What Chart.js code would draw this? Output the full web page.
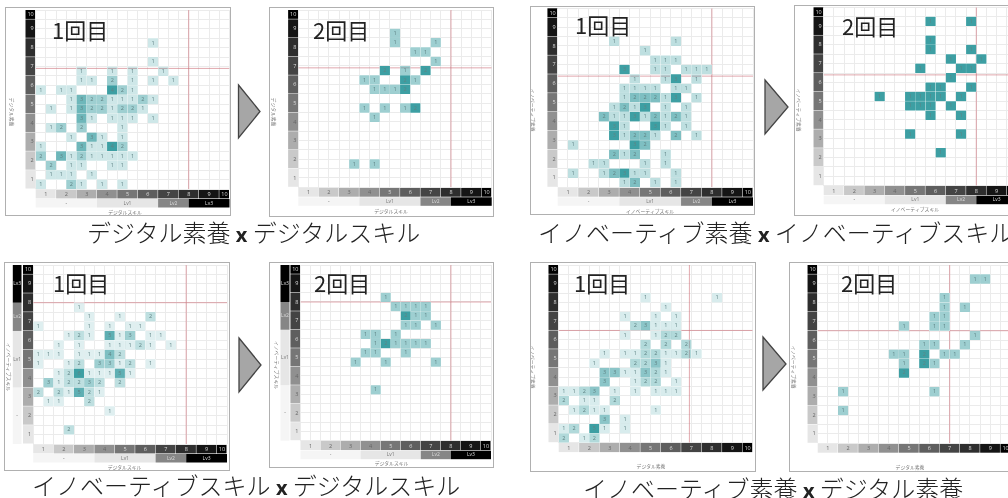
<!DOCTYPE html>
<html lang="ja">
<head>
<meta charset="utf-8">
<title>1回目 / 2回目</title>
<script src="https://cdn.jsdelivr.net/npm/chart.js@4"></script>
<style>
  html, body { margin: 0; background: #fff; }
  body { position: relative; width: 1008px; height: 498px; overflow: hidden; font-family: "Noto Sans CJK JP", sans-serif; color: #222; }
  canvas { position: absolute; outline: 1px solid #b0b0b0; filter: blur(0.5px); }
  .round, .caption { position: absolute; white-space: nowrap; transform: translateY(-50%); font-size: 22px; line-height: 1; }
  .caption { font-size: 24px; font-weight: 300; }
  .caption b { font-family: "Open Sans", sans-serif; font-size: 20px; font-weight: 700; }
  svg { position: absolute; left: 0; top: 0; }
</style>
</head>
<body>
<svg width="1008" height="498" id="arrows"></svg>
<script>
// Tick labels and bands
const scoreLabels = [1, 2, 3, 4, 5, 6, 7, 8, 9, 10];
const bandColors = ["#e6e6e6", "#c9c9c9", "#adadad", "#909090", "#767676", "#5e5e5e", "#444444", "#2e2e2e", "#151515", "#000000"];
const levelNames = ["-", "Lv1", "Lv2", "Lv3"];
const levelStarts = [1, 4, 7, 8.5];
const levelColors = ["#f5f5f5", "#e6e6e6", "#868686", "#000000"];

// Cells: [x score, y score, people]
const digital1 = [
  [6.5,8.5,1],[6.5,7.5,1],
  [3,7,1],[4.5,7,1],[5.5,7,1],[7,7,1],
  [3,6.5,1],[3.5,6.5,1],[4.5,6.5,2],[5.5,6.5,1],[6.5,6.5,1],[7.5,6.5,1],
  [1,6,1],[2,6,1],[2.5,6,1],[4.5,6,4],[5,6,2],[5.5,6,1],
  [2.5,5.5,1],[3,5.5,3],[3.5,5.5,2],[4,5.5,2],[4.5,5.5,1],[5,5.5,1],[5.5,5.5,1],[6,5.5,2],[6.5,5.5,1],
  [1.5,5,1],[2.5,5,1],[3,5,3],[3.5,5,2],[4,5,2],[4.5,5,1],[5,5,2],[5.5,5,2],[6,5,1],
  [3,4.5,3],[3.5,4.5,1],[4.5,4.5,1],[5,4.5,1],[5.5,4.5,1],[6.5,4.5,1],
  [1.5,4,1],[2,4,2],[3,4,2],[5,4,1],
  [2.5,3.5,1],[3.5,3.5,3],[4,3.5,1],[5,3.5,1],
  [1,3,1],[3,3,3],[3.5,3,1],[4,3,1],[4.5,3,4],[5,3,2],
  [1,2.5,2],[2,2.5,3],[2.5,2.5,1],[3,2.5,2],[3.5,2.5,1],[4,2.5,1],[4.5,2.5,1],[5,2.5,1],[5.5,2.5,1],
  [1.5,2,2],[2.5,2,1],[3,2,1],[4.5,2,1],[5,2,1],
  [1.5,1.5,1],[2,1.5,1],[2.5,1.5,1],[3.5,1.5,1],
  [1,1,1],[2.5,1,2],[3,1,1],[4,1,1],[5,1,1],
];
const digital2 = [
  [5.5,9,1],[5.5,8.5,1],[7.5,8.5,1],
  [6.5,8,1],[7,8,1],[7.5,7.5,1],
  [5,7,2],[6,7,1],[7,7,2],
  [4,6.5,1],[4.5,6.5,1],[6,6.5,2],[6.5,6.5,1],
  [4.5,6,1],[5,6,1],[5.5,6,1],[6,6,2],
  [4,5,1],[5,5,1],[6,5,1],[6.5,5,2],
  [4.5,4.5,1],[3.5,2,1],[4.5,2,1],
];
const innovative1 = [
  [3.5,8.5,1],[6.5,8.5,1],[5,8,1],
  [5.5,7.5,1],[6,7.5,1],[6.5,7.5,1],
  [4,7,3],[5.5,7,1],[6,7,1],[7,7,1],[7.5,7,1],[8,7,1],
  [4.5,6.5,1],[6,6.5,1],[6.5,6.5,3],[7.5,6.5,1],
  [4,6,1],[4.5,6,1],[5,6,1],[5.5,6,1],[6.5,6,1],[7,6,1],
  [4,5.5,1],[4.5,5.5,2],[5,5.5,2],[5.5,5.5,2],[6,5.5,1],[6.5,5.5,3],[7.5,5.5,1],
  [3.5,5,1],[4,5,2],[4.5,5,1],[5,5,3],[6,5,1],[7,5,1],
  [3,4.5,2],[3.5,4.5,1],[4,4.5,1],[4.5,4.5,3],[5,4.5,1],[5.5,4.5,2],[6,4.5,1],[6.5,4.5,2],[7,4.5,1],
  [3.5,4,3],[4,4,1],[5.5,4,3],[6,4,1],[7,4,1],
  [3.5,3.5,3],[4,3.5,1],[4.5,3.5,2],[5,3.5,2],[5.5,3.5,1],[6.5,3.5,2],[7.5,3.5,1],
  [1.5,3,1],[4.5,3,3],[5,3,2],
  [3.5,2.5,2],[4,2.5,1],[4.5,2.5,2],[6,2.5,1],
  [2.5,2,1],[3,2,1],[5,2,1],[6,2,1],
  [1.5,1.5,1],[3,1.5,1],[3.5,1.5,2],[4,1.5,3],[4.5,1.5,1],[5,1.5,1],[6.5,1.5,1],
  [4,1,1],[4.5,1,2],[5.5,1,1],[6.5,1,1],
];
const innovative2 = [
  [6,9.5,1],[8,9.5,1],[6,8.5,1],[6,8,1],[8,8,1],
  [7,7.5,1],[8.5,7.5,1],
  [5.5,7,1],[7.5,7,1],[8,7,1],[7,6.5,1],
  [6,6,1],[6.5,6,1],[8,6,1],
  [3.5,5.5,1],[5,5.5,1],[5.5,5.5,1],[6,5.5,1],[6.5,5.5,1],[7.5,5.5,1],
  [5,5,1],[5.5,5,1],[6,5,1],[7,5,1],
  [6,4.5,1],[7.5,4.5,1],[5,3.5,1],[7.5,3.5,1],[6.5,2.5,1],
];
const skill1 = [
  [3,8,1],[3.5,7.5,1],[5,7.5,1],[6.5,7.5,2],
  [1,7,1],[3.5,7,1],[4.5,7,1],[5.5,7,1],[6,7,1],
  [2.5,6.5,1],[3,6.5,2],[3.5,6.5,1],[4.5,6.5,5],[5,6.5,1],[5.5,6.5,3],[6.5,6.5,1],[7,6.5,1],
  [2,6,1],[3,6,1],[4.5,6,1],[5,6,1],[5.5,6,1],[6,6,2],[6.5,6,1],[7.5,6,1],
  [1,5.5,1],[1.5,5.5,1],[2,5.5,1],[3,5.5,1],[3.5,5.5,1],[4,5.5,1],[4.5,5.5,4],[5,5.5,2],
  [1,5,1],[2.5,5,1],[3,5,2],[4,5,3],[4.5,5,3],[5,5,1],[5.5,5,2],[6.5,5,1],
  [2,4.5,1],[2.5,4.5,2],[3,4.5,6],[3.5,4.5,1],[4,4.5,1],[4.5,4.5,1],[5,4.5,5],[5.5,4.5,1],
  [1.5,4,3],[2,4,1],[2.5,4,2],[3,4,2],[3.5,4,3],[4,4,2],[5,4,2],
  [1,3.5,2],[2,3.5,2],[2.5,3.5,1],[3,3.5,5],[3.5,3.5,2],[4,3.5,1],
  [1.5,3,1],[2,3,1],[3.5,3,2],
  [4.5,2.5,1],[2.5,1.5,2],
];
const skill2 = [
  [5,8.5,1],
  [5.5,8,1],[6,8,1],[6.5,8,1],[7,8,1],
  [6,7.5,2],[6.5,7.5,1],[7,7.5,1],
  [6,7,1],[6.5,7,1],[7.5,7,1],
  [4,6.5,1],[4.5,6.5,1],[5.5,6.5,1],
  [4.5,6,1],[5,6,2],[5.5,6,1],[6,6,1],[6.5,6,1],[7,6,1],
  [4,5.5,1],[4.5,5.5,1],[6,5.5,1],
  [3.5,5,1],[5,5,1],[7.5,5,1],
  [4.5,3.5,1],
];
const literacy1 = [
  [5,8.5,1],[8.5,8.5,1],[6,8,1],
  [4,7.5,1],[5.5,7.5,1],[6.5,7.5,1],
  [4.5,7,2],[5,7,3],[5.5,7,1],[6,7,1],[6.5,7,1],
  [4,6.5,1],[5.5,6.5,1],[6,6.5,2],[6.5,6.5,2],
  [5,6,2],[6,6,2],[7,6,2],
  [3,5.5,1],[4,5.5,1],[4.5,5.5,1],[5,5.5,2],[5.5,5.5,2],[6,5.5,1],[6.5,5.5,1],[7,5.5,2],[7.5,5.5,1],
  [2.5,5,1],[4.5,5,2],[5,5,2],[5.5,5,3],[6,5,1],
  [3,4.5,3],[3.5,4.5,3],[4,4.5,1],[4.5,4.5,1],[5,4.5,3],[5.5,4.5,2],[6,4.5,1],
  [3,4,3],[4.5,4,1],[5,4,2],[5.5,4,2],[6.5,4,1],
  [1,3.5,1],[1.5,3.5,1],[2,3.5,2],[2.5,3.5,3],[3.5,3.5,1],[4.5,3.5,1],[5.5,3.5,1],[6,3.5,1],[6.5,3.5,1],
  [1,3,2],[2,3,1],[2.5,3,1],[3.5,3,2],
  [1.5,2.5,1],[2,2.5,2],[2.5,2.5,1],[3,2.5,1],[5.5,2.5,1],
  [3,2,3],[4,2,1],
  [1,1.5,1],[1.5,1.5,2],[2.5,1.5,5],[3,1.5,1],[4,1.5,1],
  [1,1,2],[2,1,1],[2.5,1,2],
];
const literacy2 = [
  [8.5,9.5,1],[9,9.5,1],
  [7,8.5,1],[7,8,1],[8,8,1],
  [6.5,7.5,1],[7,7.5,1],
  [5,7,1],[6.5,7,1],[7,7,1],[8.5,6.5,1],
  [6,6,1],[6.5,6,1],[8,6,1],
  [4.5,5.5,1],[5,5.5,1],[6,5.5,2],[7,5.5,1],[7.5,5.5,1],
  [5,5,1],[6,5,2],[6.5,5,1],
  [5,4.5,2],[2,3.5,1],[6.5,3.5,1],[2,2.5,1],
];

// Geometry: frame [l,t,r,b], grid [l,t,r,b], titles at [x,y]
const panels = [
  { cells: digital1, round: "1回目", roundAt: [52, 29], frame: [6, 8, 230, 215], grid: [35.7, 10, 229.5, 189], xTitle: "デジタルスキル", xTitleAt: [125, 212], yTitle: "デジタル素養", yTitleAt: [12, 112], redX: 8.5, redY: 7.4, xLevels: true },
  { cells: digital2, round: "2回目", roundAt: [313, 29], frame: [270, 8, 493, 216], grid: [298.3, 10, 491.7, 187.3], xTitle: "デジタルスキル", xTitleAt: [391, 211], yTitle: "デジタル素養", yTitleAt: [274, 112], redX: 8.5, redY: 7.4, xLevels: true },
  { cells: innovative1, round: "1回目", roundAt: [575, 24], frame: [531, 7, 754, 214], grid: [557.7, 8.3, 753, 187.3], xTitle: "イノベーティブスキル", xTitleAt: [650, 211], yTitle: "イノベーティブ素養", yTitleAt: [533, 110], redX: 8.5, redY: 6.9, xLevels: true },
  { cells: innovative2, round: "2回目", roundAt: [842, 25], frame: [795, 6, 1019, 215], grid: [823.7, 7.3, 1017, 185.7], xTitle: "イノベーティブスキル", xTitleAt: [915, 209], yTitle: "イノベーティブ素養", yTitleAt: [799, 110], redX: 8.5, redY: 6.9, xLevels: true },
  { cells: skill1, round: "1回目", roundAt: [53, 282], frame: [4.5, 263, 229, 470], grid: [32.7, 265, 227, 444], xTitle: "デジタルスキル", xTitleAt: [124, 467], yTitle: "イノベーティブスキル", yTitleAt: [8, 367], redX: 8.5, redY: 8.5, xLevels: true, yLevelsAt: [12.3, 21] },
  { cells: skill2, round: "2回目", roundAt: [314, 282], frame: [269.5, 263, 493, 467], grid: [300, 265, 491, 440.7], xTitle: "デジタルスキル", xTitleAt: [391, 463], yTitle: "イノベーティブスキル", yTitleAt: [276, 365], redX: 8.5, redY: 8.5, xLevels: true, yLevelsAt: [280, 289] },
  { cells: literacy1, round: "1回目", roundAt: [574, 282], frame: [531, 263, 755, 471], grid: [558.7, 265, 752.7, 442.7], xTitle: "デジタル素養", xTitleAt: [651, 466], yTitle: "イノベーティブ素養", yTitleAt: [533, 367], redX: 7.4, redY: 7 },
  { cells: literacy2, round: "2回目", roundAt: [841, 282], frame: [790, 263, 1020, 471], grid: [817.7, 265, 1010.6, 443.3], xTitle: "デジタル素養", xTitleAt: [910, 467], yTitle: "イノベーティブ素養", yTitleAt: [794, 367], redX: 7.5, redY: 7 },
];

const captions = [
  { at: [87, 232], left: "デジタル素養", right: "デジタルスキル" },
  { at: [538, 232], left: "イノベーティブ素養", right: "イノベーティブスキル" },
  { at: [32, 485], left: "イノベーティブスキル", right: "デジタルスキル" },
  { at: [583, 488], left: "イノベーティブ素養", right: "デジタル素養" },
];

const arrows = [
  "238.5,85 260,111.5 238.5,138",
  "765,80 788,107 765,134",
  "239,338 261,365 239,392",
  "763,337 786,364 763,390",
];

// Tick positions: one grid line per half point, a label in the middle of each band
const halfSteps = [];
for (let v = 1; v <= 10.5; v += 0.5) halfSteps.push(v);
const tickValues = [...halfSteps, 10.25].sort((a, b) => a - b);

function tickLabel(value) {
  if (value === 10.25) return "10";
  return Number.isInteger(value - 0.5) && value < 10 ? String(value - 0.5) : "";
}

function gridColor(ctx) {
  return ctx.tick && ctx.tick.value === 10.25 ? "rgba(0,0,0,0)" : "#ebebeb";
}

function tickColor(ctx) {
  return ctx.tick && ctx.tick.value >= 5 ? "#dcdcdc" : "#666";
}

function axisOptions(size, getSize) {
  return {
    type: "linear",
    min: 1,
    max: 10.5,
    offset: false,
    border: { display: false },
    grid: { color: gridColor, lineWidth: 1, drawTicks: false, offset: false },
    afterBuildTicks(scale) {
      scale.ticks = tickValues.map((value) => ({ value }));
    },
    afterFit(scale) {
      scale.paddingLeft = scale.paddingRight = scale.paddingTop = scale.paddingBottom = 0;
      getSize(scale, size);
    },
    ticks: {
      autoSkip: false,
      maxRotation: 0,
      minRotation: 0,
      padding: 2,
      font: { size: 5.5, family: "'Open Sans', sans-serif" },
      color: tickColor,
      callback: tickLabel,
    },
  };
}

// Grey score bands, level bands and small titles around the grid
const bandsPlugin = {
  id: "bands",
  beforeDraw(chart, args, opts) {
    const { ctx, scales: { x, y }, chartArea: area } = chart;
    const bandH = opts.bandH;
    const bandW = opts.bandW;
    ctx.save();
    scoreLabels.forEach((score, i) => {
      const end = score === 10 ? 10.5 : score + 1;
      ctx.fillStyle = bandColors[i];
      ctx.fillRect(x.getPixelForValue(score), area.bottom, x.getPixelForValue(end) - x.getPixelForValue(score) - 0.5, bandH);
      ctx.fillRect(area.left - bandW, y.getPixelForValue(end), bandW, y.getPixelForValue(score) - y.getPixelForValue(end) - 0.5);
    });
    ctx.restore();
  },
  afterDraw(chart, args, opts) {
    const { ctx, scales: { x, y }, chartArea: area } = chart;
    const [fl, ft] = opts.frame;
    ctx.save();
    ctx.textAlign = "center";
    ctx.textBaseline = "middle";

    levelNames.forEach((name, i) => {
      const start = levelStarts[i];
      const end = i < levelStarts.length - 1 ? levelStarts[i + 1] : 10.5;
      const textColor = i < 2 ? "#777" : "#ddd";
      ctx.font = "5px 'Open Sans', sans-serif";
      if (opts.xLevels) {
        const top = area.bottom + opts.bandH + 0.6;
        const left = x.getPixelForValue(start);
        const w = x.getPixelForValue(end) - left;
        ctx.fillStyle = levelColors[i];
        ctx.fillRect(left, top, w, 8.5);
        ctx.fillStyle = textColor;
        ctx.fillText(name, left + w / 2, top + 4.2);
      }
      if (opts.yLevelsAt) {
        const top = y.getPixelForValue(end);
        const h = y.getPixelForValue(start) - top;
        const left = opts.yLevelsAt[0] - fl;
        const w = opts.yLevelsAt[1] - opts.yLevelsAt[0];
        ctx.fillStyle = levelColors[i];
        ctx.fillRect(left, top, w, h);
        ctx.fillStyle = textColor;
        ctx.fillText(name, left + w / 2, top + h / 2);
      }
    });

    // People count in each cell
    const meta = chart.getDatasetMeta(0);
    ctx.font = "5.5px 'Open Sans', sans-serif";
    ctx.fillStyle = "#5f8385";
    meta.data.forEach((bar, i) => {
      ctx.fillText(chart.data.datasets[0].data[i].n, bar.x, (bar.y + bar.base) / 2);
    });

    ctx.fillStyle = "#777";
    ctx.font = "4.8px 'Noto Sans CJK JP', sans-serif";
    ctx.fillText(opts.xTitle, opts.xTitleAt[0] - fl, opts.xTitleAt[1] - ft);
    ctx.translate(opts.yTitleAt[0] - fl, opts.yTitleAt[1] - ft);
    ctx.rotate(Math.PI / 2);
    ctx.fillText(opts.yTitle, 0, 0);
    ctx.restore();
  },
};

function drawPanel(panel) {
  const [fl, ft, fr, fb] = panel.frame;
  const [gl, gt, gr, gb] = panel.grid;
  const canvas = document.createElement("canvas");
  canvas.width = fr - fl;
  canvas.height = fb - ft;
  canvas.style.left = fl + "px";
  canvas.style.top = ft + "px";
  document.body.appendChild(canvas);

  const maxCount = Math.max(...panel.cells.map((c) => c[2]));
  const cellWidth = (gr - gl) / 19;
  const bandW = (gr - gl) / 19;
  const bandH = 9.4;

  new Chart(canvas, {
    type: "bar",
    data: {
      datasets: [
        {
          data: panel.cells.map(([x, y, n]) => ({ x: x + 0.25, y: [y, y + 0.5], n })),
          backgroundColor: panel.cells.map((c) => `rgba(61,159,163,${c[2] / maxCount})`),
          borderColor: "#fff",
          borderWidth: 0.3,
          borderSkipped: false,
          barThickness: cellWidth,
        },
        {
          type: "scatter",
          showLine: true,
          data: [{ x: panel.redX, y: 1 }, { x: panel.redX, y: 10.5 }],
          borderColor: "rgba(205,110,120,0.6)",
          borderWidth: 1,
          pointRadius: 0,
        },
        {
          type: "scatter",
          showLine: true,
          data: [{ x: 1, y: panel.redY }, { x: 10.5, y: panel.redY }],
          borderColor: "rgba(205,110,120,0.6)",
          borderWidth: 1,
          pointRadius: 0,
        },
      ],
    },
    options: {
      responsive: false,
      animation: false,
      layout: { padding: { top: gt - ft, right: fr - gr, left: 0, bottom: 0 } },
      scales: {
        x: axisOptions(fb - gb, (s, v) => { s.height = v; }),
        y: axisOptions(gl - fl, (s, v) => { s.width = v; }),
      },
      plugins: {
        legend: { display: false },
        tooltip: { enabled: false },
        bands: { ...panel, bandH, bandW },
      },
    },
    plugins: [bandsPlugin],
  });

  const round = document.createElement("div");
  round.className = "round";
  round.textContent = panel.round;
  round.style.left = panel.roundAt[0] + "px";
  round.style.top = panel.roundAt[1] + "px";
  document.body.appendChild(round);
}

panels.forEach(drawPanel);

captions.forEach((c) => {
  const el = document.createElement("div");
  el.className = "caption";
  el.style.left = c.at[0] + "px";
  el.style.top = c.at[1] + "px";
  el.innerHTML = `${c.left} <b>x</b> ${c.right}`;
  document.body.appendChild(el);
});

const arrowLayer = document.getElementById("arrows");
arrows.forEach((points) => {
  const p = document.createElementNS("http://www.w3.org/2000/svg", "polygon");
  p.setAttribute("points", points);
  p.setAttribute("fill", "#a6a6a6");
  p.setAttribute("stroke", "#444");
  p.setAttribute("stroke-width", "1.3");
  arrowLayer.appendChild(p);
});
</script>
</body>
</html>
